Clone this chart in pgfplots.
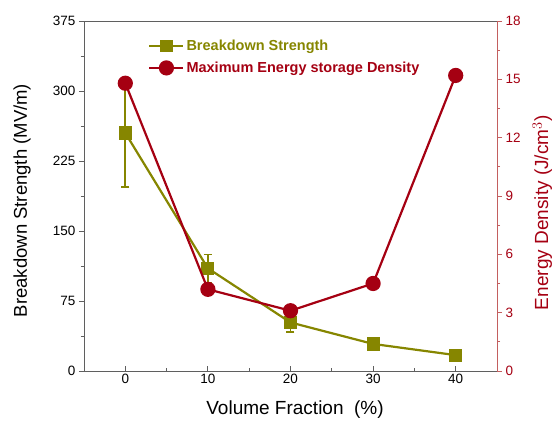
\documentclass[border=0pt]{standalone}
\usepackage{pgfplots}
\pgfplotsset{compat=1.18}
\usepackage{fontspec}
\setmainfont{Liberation Sans}

\definecolor{olivebar}{RGB}{134,134,0}
\definecolor{darkred}{RGB}{165,0,18}
\definecolor{framegray}{RGB}{95,95,95}
\definecolor{axisred}{RGB}{195,95,95}

\pgfplotsset{
  legimg/.style={legend image code/.code={
    \draw[##1, mark repeat=2, mark phase=2] plot coordinates {(0pt,0pt) (17pt,0pt) (34pt,0pt)};}},
}

\begin{document}
\begin{tikzpicture}
\path[use as bounding box] (-84pt,-51pt) rectangle (472pt,371pt);

% breakdown strength, left axis
\begin{axis}[
  scale only axis, width=413pt, height=350pt,
  xmin=-5, xmax=45, ymin=0, ymax=375,
  xtick={0,10,20,30,40}, minor x tick num=1,
  ytick={0,75,...,375}, minor y tick num=1,
  xtick pos=left, ytick pos=left,
  xtick align=inside, ytick align=outside,
  major tick length=5pt, minor tick length=3pt,
  axis line style={framegray, line width=0.8pt},
  tick style={framegray, line width=0.8pt},
  /pgf/number format/assume math mode=true,
  tick label style={font=\fontsize{13.5}{16}\selectfont},
  xlabel={Volume Fraction\ \ (\%)},
  ylabel={Breakdown Strength (MV/m)},
  xlabel style={font=\fontsize{19}{21}\selectfont},
  ylabel style={font=\fontsize{18.5}{20}\selectfont},
  every axis x label/.append style={at={(axis description cs:0.511,-0.111)}, anchor=center},
  every axis y label/.append style={at={(axis description cs:-0.150,0.487)}, anchor=center},
]
\addplot[olivebar, line width=2.2pt, mark=square*, mark size=5.5pt,
  mark options={solid},
  error bars/.cd, y dir=both, y explicit,
  error bar style={line width=1.6pt},
  error mark options={rotate=90, mark size=4pt, line width=1.6pt}]
  coordinates {
  (0,255) +- (0,58)
  (10,110) +- (0,15)
  (20,52) +- (0,10)
  (30,29) +- (0,5)
  (40,17) +- (0,3)
};
\end{axis}

% energy density, right axis
\begin{axis}[
  scale only axis, width=413pt, height=350pt,
  xmin=-5, xmax=45, ymin=0, ymax=18,
  axis x line=none, axis y line*=right,
  ytick={0,3,...,18}, minor y tick num=1,
  tick align=outside,
  major tick length=5pt, minor tick length=3pt,
  y axis line style={axisred, line width=0.8pt},
  ytick style={axisred, line width=0.8pt},
  /pgf/number format/assume math mode=true,
  yticklabel style={darkred, font=\fontsize{13.5}{16}\selectfont},
  ylabel={Energy Density (J/cm$^{3}$)},
  ylabel style={darkred, font=\fontsize{19}{21}\selectfont},
  every axis y label/.append style={at={(axis description cs:1.110,0.452)}, anchor=center, rotate=0},
  legend style={at={(axis description cs:0.148,0.958)}, anchor=north west,
    draw=none, fill=none, font=\bfseries\fontsize{14.5}{16}\selectfont,
    row sep=6pt, cells={anchor=west}},
  legimg,
]
\addlegendimage{olivebar, line width=2.2pt, mark=square*, mark size=5pt}
\addlegendentry{\textcolor{olivebar}{Breakdown Strength}}
\addplot[darkred, line width=2.2pt, mark=*, mark size=6.5pt]
  coordinates {
  (0,14.8)
  (10,4.2)
  (20,3.1)
  (30,4.5)
  (40,15.2)
};
\addlegendentry{\textcolor{darkred}{Maximum Energy storage Density}}
\end{axis}
\end{tikzpicture}
\end{document}
